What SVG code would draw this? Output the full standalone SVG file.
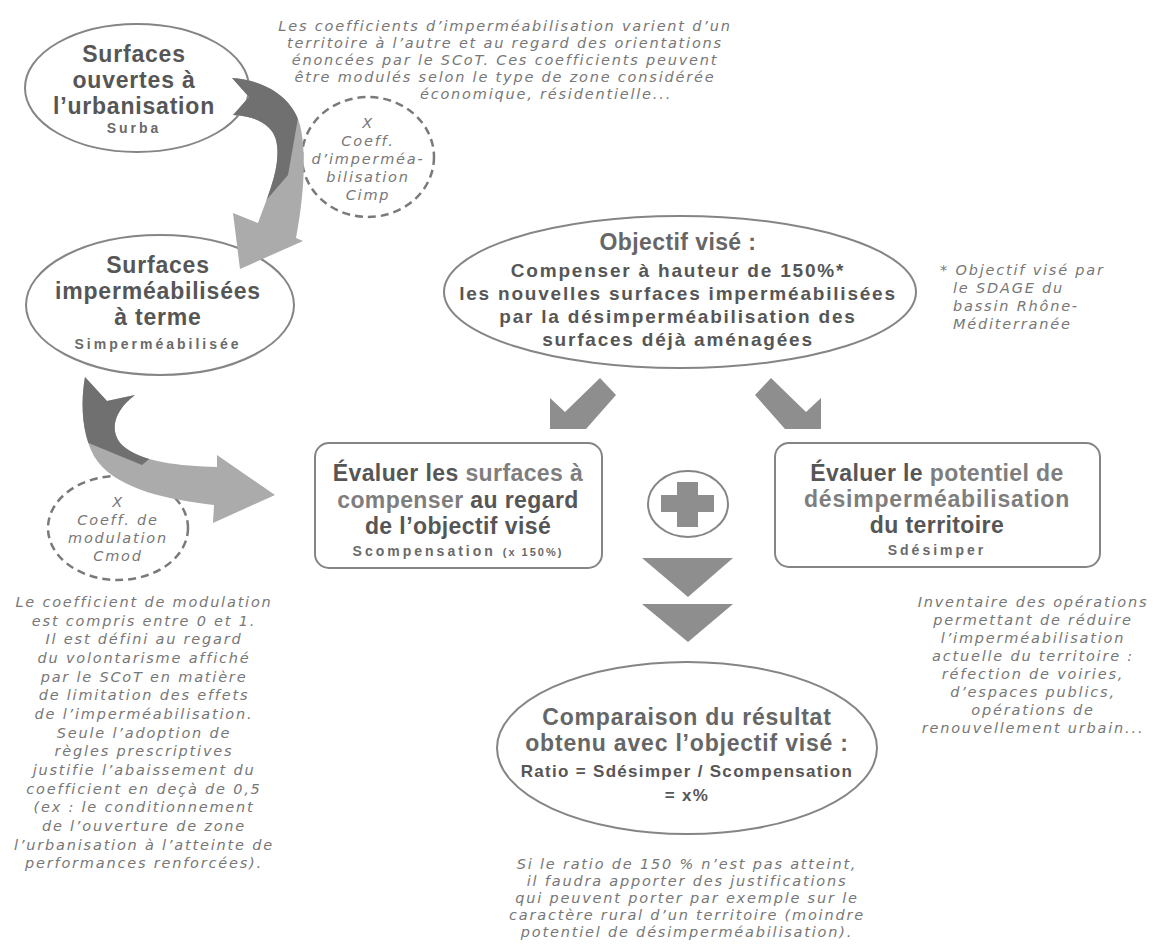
<svg xmlns="http://www.w3.org/2000/svg" xmlns:xlink="http://www.w3.org/1999/xlink" width="1153" height="948" viewBox="0 0 1153 948">
<defs>
<style>
.bt{font-family:"Liberation Sans",Arial,sans-serif;font-weight:700;fill:#565656;text-anchor:middle}
.t23{font-size:23px;letter-spacing:0.8px}
.tb{font-size:23px;letter-spacing:0.4px}
.t19{font-size:19px;letter-spacing:1.8px}
.t17{font-size:17px;letter-spacing:1.3px}
.sb{fill:#666}
.lab{font-family:"Liberation Sans",Arial,sans-serif;font-weight:700;font-size:14px;letter-spacing:3px;fill:#6a6a6a;text-anchor:middle}
.lt{fill:#7e7e7e}
.note{font-family:"DejaVu Sans",sans-serif;font-style:italic;font-size:14.5px;letter-spacing:1.8px;fill:#777;text-anchor:middle}
.shape{fill:#fff;stroke:#858585;stroke-width:2}
.dash{fill:#fff;stroke:#7a7a7a;stroke-width:2.5;stroke-dasharray:8 5}
.flat{fill:#8e8e8e}
.light{fill:#ababab}
.dark{fill:#707070}
</style>
<path id="a1" d="M232,78 C262,80 292,95 300,125 C306,150 305,190 296,238 L303,241 L240,269 L233,213 L258,223 C268,195 282,165 276,140 C272,125 256,116 233,115 L249,97 Z"/>
<path id="a2" d="M85,377 L107,401 L135,395 C115,410 108,430 122,445 C140,462 180,466 217,467 L217,455 L275,495 L213,523 L214,505 C170,500 120,490 98,462 C82,440 80,405 85,377 Z"/>
<clipPath id="c1"><use xlink:href="#a1"/></clipPath>
<clipPath id="c2"><use xlink:href="#a2"/></clipPath>
</defs>
<rect width="1153" height="948" fill="#fff"/>

<g id="note-top">
<text class="note" x="505" y="31">Les coefficients d’imperméabilisation varient d’un</text>
<text class="note" x="505" y="48">territoire à l’autre et au regard des orientations</text>
<text class="note" x="505" y="65">énoncées par le SCoT. Ces coefficients peuvent</text>
<text class="note" x="505" y="82">être modulés selon le type de zone considérée</text>
<text class="note" x="546" y="99">économique, résidentielle...</text>
</g>

<g id="node-surba">
<ellipse class="shape" cx="137" cy="88" rx="112" ry="64"/>
<text class="bt t23" x="134" y="62">Surfaces</text>
<text class="bt t23" x="134" y="88">ouvertes à</text>
<text class="bt t23" x="134" y="114">l’urbanisation</text>
<text class="lab" x="134" y="133">Surba</text>
</g>

<g id="node-cimp">
<ellipse class="dash" cx="368" cy="157" rx="66" ry="60"/>
<text class="note" x="368" y="128">X</text>
<text class="note" x="368" y="146">Coeff.</text>
<text class="note" x="368" y="164">d’imperméa-</text>
<text class="note" x="368" y="182">bilisation</text>
<text class="note" x="368" y="200">Cimp</text>
</g>

<g id="node-simper">
<ellipse class="shape" cx="160" cy="305" rx="134" ry="70"/>
<text class="bt t23" x="158" y="273">Surfaces</text>
<text class="bt t23" x="158" y="299">imperméabilisées</text>
<text class="bt t23" x="158" y="325">à terme</text>
<text class="lab" x="158" y="349">Simperméabilisée</text>
</g>

<g id="node-objectif">
<ellipse class="shape" cx="680" cy="292" rx="236" ry="76"/>
<text class="bt tb sb" x="678" y="250">Objectif visé :</text>
<text class="bt t19" x="678" y="277">Compenser à hauteur de 150%*</text>
<text class="bt t19" x="678" y="300">les nouvelles surfaces imperméabilisées</text>
<text class="bt t19" x="678" y="323">par la désimperméabilisation des</text>
<text class="bt t19" x="678" y="346">surfaces déjà aménagées</text>
</g>

<g id="note-sdage">
<text class="note" style="text-anchor:start" x="940" y="275">* Objectif visé par</text>
<text class="note" style="text-anchor:start" x="953" y="293">le SDAGE du</text>
<text class="note" style="text-anchor:start" x="953" y="311">bassin Rhône-</text>
<text class="note" style="text-anchor:start" x="953" y="329">Méditerranée</text>
</g>

<g id="node-cmod">
<ellipse class="dash" cx="118" cy="528" rx="70" ry="52"/>
<text class="note" x="118" y="507">X</text>
<text class="note" x="118" y="525">Coeff. de</text>
<text class="note" x="118" y="543">modulation</text>
<text class="note" x="118" y="561">Cmod</text>
</g>

<g id="node-scompensation">
<rect class="shape" x="315" y="443" width="287" height="125" rx="14" stroke-width="2.5"/>
<text class="bt tb" x="458" y="481">Évaluer les <tspan class="lt">surfaces à</tspan></text>
<text class="bt tb" x="458" y="508"><tspan class="lt">compenser</tspan> au regard</text>
<text class="bt tb" x="458" y="534">de l’objectif visé</text>
<text class="lab" x="458" y="556">Scompensation <tspan style="font-size:11px;letter-spacing:2px">(x 150%)</tspan></text>
</g>

<g id="node-plus">
<ellipse class="shape" cx="688" cy="504" rx="40" ry="33"/>
<rect class="flat" x="677" y="482" width="21" height="45"/>
<rect class="flat" x="661" y="495" width="53" height="17"/>
</g>

<g id="node-sdesimper">
<rect class="shape" x="775" y="443" width="325" height="124" rx="14" stroke-width="2.5"/>
<text class="bt tb" x="937" y="481">Évaluer le <tspan class="lt">potentiel de</tspan></text>
<text class="bt tb lt" x="937" y="507" style="letter-spacing:0.8px">désimperméabilisation</text>
<text class="bt tb" x="937" y="533">du territoire</text>
<text class="lab" x="937" y="555">Sdésimper</text>
</g>

<g id="note-inventaire">
<text class="note" x="1033" y="607">Inventaire des opérations</text>
<text class="note" x="1033" y="625">permettant de réduire</text>
<text class="note" x="1033" y="643">l’imperméabilisation</text>
<text class="note" x="1033" y="661">actuelle du territoire :</text>
<text class="note" x="1033" y="679">réfection de voiries,</text>
<text class="note" x="1033" y="697">d’espaces publics,</text>
<text class="note" x="1033" y="715">opérations de</text>
<text class="note" x="1033" y="733">renouvellement urbain...</text>
</g>

<g id="note-modulation">
<text class="note" x="144" y="607">Le coefficient de modulation</text>
<text class="note" x="144" y="626">est compris entre 0 et 1.</text>
<text class="note" x="144" y="644">Il est défini au regard</text>
<text class="note" x="144" y="663">du volontarisme affiché</text>
<text class="note" x="144" y="682">par le SCoT en matière</text>
<text class="note" x="144" y="700">de limitation des effets</text>
<text class="note" x="144" y="719">de l’imperméabilisation.</text>
<text class="note" x="144" y="738">Seule l’adoption de</text>
<text class="note" x="144" y="756">règles prescriptives</text>
<text class="note" x="144" y="775">justifie l’abaissement du</text>
<text class="note" x="144" y="794">coefficient en deçà de 0,5</text>
<text class="note" x="144" y="812">(ex : le conditionnement</text>
<text class="note" x="144" y="831">de l’ouverture de zone</text>
<text class="note" x="144" y="850">l’urbanisation à l’atteinte de</text>
<text class="note" x="144" y="868">performances renforcées).</text>
</g>

<g id="node-comparaison">
<ellipse class="shape" cx="687" cy="748" rx="190" ry="86"/>
<text class="bt t23 sb" x="687" y="725">Comparaison du résultat</text>
<text class="bt t23 sb" x="687" y="751">obtenu avec l’objectif visé :</text>
<text class="bt t17" x="687" y="777">Ratio = Sdésimper / Scompensation</text>
<text class="bt t17" x="687" y="801">= x%</text>
</g>

<g id="note-ratio">
<text class="note" x="687" y="869">Si le ratio de 150 % n’est pas atteint,</text>
<text class="note" x="687" y="886">il faudra apporter des justifications</text>
<text class="note" x="687" y="903">qui peuvent porter par exemple sur le</text>
<text class="note" x="687" y="920">caractère rural d’un territoire (moindre</text>
<text class="note" x="687" y="937">potentiel de désimperméabilisation).</text>
</g>

<g id="connectors">
<use xlink:href="#a1" class="light"/>
<polygon class="dark" clip-path="url(#c1)" points="220,60 310,60 298,118 288,175 262,205 220,205"/>
<use xlink:href="#a2" class="light"/>
<polygon class="dark" clip-path="url(#c2)" points="60,360 160,360 160,450 142,465 86,442 60,430"/>
<polygon class="flat" points="616,395 600,378 565,412 550,398 550,429 586,429"/>
<polygon class="flat" points="755,395 771,378 806,412 821,398 821,429 785,429"/>
<polygon class="flat" points="642,558 733,558 688,597"/>
<polygon class="flat" points="642,604 733,604 688,642"/>
</g>
</svg>
